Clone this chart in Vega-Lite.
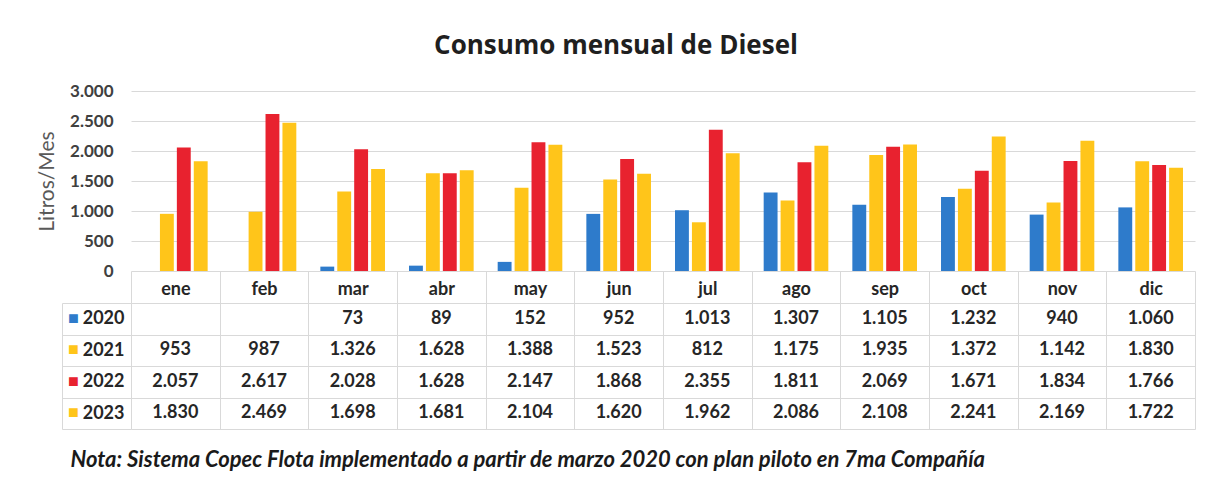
{
  "$schema": "https://vega.github.io/schema/vega-lite/v6.json",
  "padding": {"left": 36, "top": 33, "right": 19, "bottom": 5},
  "background": "white",
  "config": {
    "locale": {"number": {"decimal": ",", "thousands": ".", "grouping": [3], "currency": ["$", ""]}},
    "view": {"stroke": null},
    "font": "Lato"
  },
  "title": {"text": "Consumo mensual de Diesel", "font": "Open Sans", "fontSize": 26, "fontWeight": "bold", "color": "#1f1f1f", "anchor": "middle", "offset": 23},
  "datasets": {
    "consumo": [
      {"mes": "mar", "year": "2020", "value": 73},
      {"mes": "abr", "year": "2020", "value": 89},
      {"mes": "may", "year": "2020", "value": 152},
      {"mes": "jun", "year": "2020", "value": 952},
      {"mes": "jul", "year": "2020", "value": 1013},
      {"mes": "ago", "year": "2020", "value": 1307},
      {"mes": "sep", "year": "2020", "value": 1105},
      {"mes": "oct", "year": "2020", "value": 1232},
      {"mes": "nov", "year": "2020", "value": 940},
      {"mes": "dic", "year": "2020", "value": 1060},
      {"mes": "ene", "year": "2021", "value": 953},
      {"mes": "feb", "year": "2021", "value": 987},
      {"mes": "mar", "year": "2021", "value": 1326},
      {"mes": "abr", "year": "2021", "value": 1628},
      {"mes": "may", "year": "2021", "value": 1388},
      {"mes": "jun", "year": "2021", "value": 1523},
      {"mes": "jul", "year": "2021", "value": 812},
      {"mes": "ago", "year": "2021", "value": 1175},
      {"mes": "sep", "year": "2021", "value": 1935},
      {"mes": "oct", "year": "2021", "value": 1372},
      {"mes": "nov", "year": "2021", "value": 1142},
      {"mes": "dic", "year": "2021", "value": 1830},
      {"mes": "ene", "year": "2022", "value": 2057},
      {"mes": "feb", "year": "2022", "value": 2617},
      {"mes": "mar", "year": "2022", "value": 2028},
      {"mes": "abr", "year": "2022", "value": 1628},
      {"mes": "may", "year": "2022", "value": 2147},
      {"mes": "jun", "year": "2022", "value": 1868},
      {"mes": "jul", "year": "2022", "value": 2355},
      {"mes": "ago", "year": "2022", "value": 1811},
      {"mes": "sep", "year": "2022", "value": 2069},
      {"mes": "oct", "year": "2022", "value": 1671},
      {"mes": "nov", "year": "2022", "value": 1834},
      {"mes": "dic", "year": "2022", "value": 1766},
      {"mes": "ene", "year": "2023", "value": 1830},
      {"mes": "feb", "year": "2023", "value": 2469},
      {"mes": "mar", "year": "2023", "value": 1698},
      {"mes": "abr", "year": "2023", "value": 1681},
      {"mes": "may", "year": "2023", "value": 2104},
      {"mes": "jun", "year": "2023", "value": 1620},
      {"mes": "jul", "year": "2023", "value": 1962},
      {"mes": "ago", "year": "2023", "value": 2086},
      {"mes": "sep", "year": "2023", "value": 2108},
      {"mes": "oct", "year": "2023", "value": 2241},
      {"mes": "nov", "year": "2023", "value": 2169},
      {"mes": "dic", "year": "2023", "value": 1722}
    ],
    "anios": [{"year": "2020"}, {"year": "2021"}, {"year": "2022"}, {"year": "2023"}]
  },
  "bounds": "flush",
  "spacing": 32,
  "vconcat": [
    {
      "width": 1064,
      "height": 180,
      "data": {"name": "consumo"},
      "mark": {"type": "bar"},
      "encoding": {
        "x": {"field": "mes", "type": "nominal",
          "scale": {"domain": ["ene","feb","mar","abr","may","jun","jul","ago","sep","oct","nov","dic"], "paddingInner": 0, "paddingOuter": 0},
          "axis": {"orient": "bottom", "title": null, "domain": false, "ticks": true, "tickBand": "extent",
            "tickSize": 32, "tickColor": "#D9D9D9", "labelAngle": 0,
            "labelFontWeight": "bold", "labelFontSize": 18, "labelColor": "#262626", "labelPadding": -23}},
        "xOffset": {"field": "year", "type": "nominal",
          "scale": {"domain": ["2020","2021","2022","2023"], "paddingInner": 0.18, "paddingOuter": 0.71}},
        "y": {"field": "value", "type": "quantitative",
          "scale": {"domain": [0, 3000], "nice": false},
          "axis": {"values": [0, 500, 1000, 1500, 2000, 2500, 3000], "format": ",d", "title": "Litros/Mes",
            "grid": true, "gridColor": "#D9D9D9", "domain": false, "ticks": false,
            "labelFontWeight": "bold", "labelFontSize": 17, "labelColor": "#404040", "labelPadding": 18,
            "titleFontWeight": "normal", "titleFontSize": 21, "titleColor": "#595959", "titlePadding": 12}},
        "color": {"field": "year", "type": "nominal",
          "scale": {"domain": ["2020","2021","2022","2023"], "range": ["#2E7BCB", "#FFC51A", "#E8222F", "#FFC51A"]},
          "legend": null}
      }
    },
    {
      "width": 1064,
      "height": 126,
      "layer": [
        {
          "data": {"name": "consumo"},
          "mark": {"type": "text", "fontSize": 18, "fontWeight": "bold", "color": "#262626"},
          "encoding": {
            "x": {"field": "mes", "type": "nominal",
              "scale": {"domain": ["ene","feb","mar","abr","may","jun","jul","ago","sep","oct","nov","dic"], "paddingInner": 0, "paddingOuter": 0},
              "axis": {"orient": "bottom", "grid": true, "tickBand": "extent", "gridColor": "#D9D9D9",
                "labels": false, "ticks": false, "domain": false,
                "title": "Nota: Sistema Copec Flota implementado a partir de marzo 2020 con plan piloto en 7ma Compañía",
                "titleFontStyle": "italic", "titleFontWeight": "bold", "titleFontSize": 22, "titleColor": "#1a1a1a",
                "titleAnchor": "start", "titleAlign": "left", "titleX": -61, "titlePadding": 20}},
            "y": {"field": "year", "type": "nominal",
              "scale": {"domain": ["2020","2021","2022","2023"], "paddingInner": 0, "paddingOuter": 0},
              "axis": {"orient": "left", "grid": true, "tickBand": "extent", "gridColor": "#D9D9D9",
                "domain": true, "domainColor": "#D9D9D9", "offset": 69,
                "ticks": true, "tickSize": -69, "tickColor": "#D9D9D9",
                "labelPadding": 7, "labelAlign": "right",
                "labelFontWeight": "bold", "labelFontSize": 18, "labelColor": "#262626", "title": null}},
            "text": {"field": "value", "type": "quantitative", "format": ","}
          }
        },
        {
          "data": {"name": "anios"},
          "mark": {"type": "text", "text": "■", "fontSize": 18, "align": "left", "dx": -63},
          "encoding": {
            "x": {"datum": "ene", "type": "nominal", "bandPosition": 0,
              "axis": {"title": "Nota: Sistema Copec Flota implementado a partir de marzo 2020 con plan piloto en 7ma Compañía"}},
            "y": {"field": "year", "type": "nominal", "axis": {"title": null}},
            "color": {"field": "year", "type": "nominal",
              "scale": {"domain": ["2020","2021","2022","2023"], "range": ["#2E7BCB", "#FFC51A", "#E8222F", "#FFC51A"]},
              "legend": null}
          }
        }
      ]
    }
  ]
}
